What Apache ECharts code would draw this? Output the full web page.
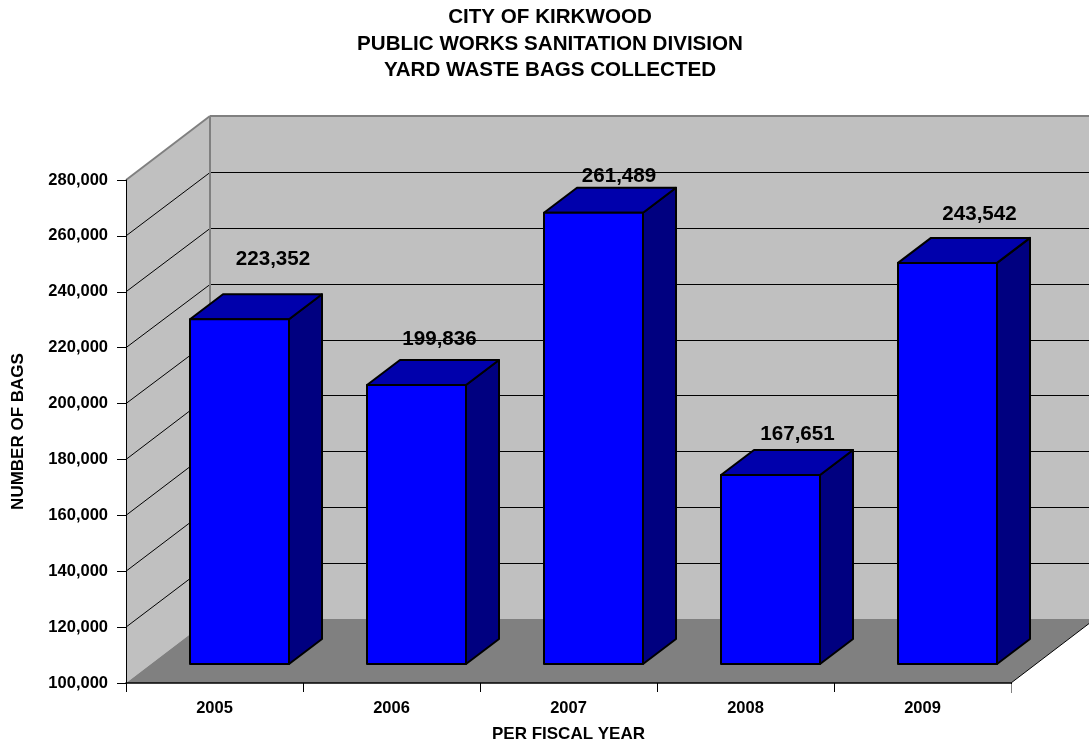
<!DOCTYPE html>
<html>
<head>
<meta charset="utf-8">
<style>html,body{margin:0;padding:0;background:#fff}#c{width:1089px;height:742px}</style>
<script src="https://cdn.jsdelivr.net/npm/echarts@6/dist/echarts.min.js"></script>
</head>
<body>
<div id="c"></div>
<script>
const titleLines = ['CITY OF KIRKWOOD', 'PUBLIC WORKS SANITATION DIVISION', 'YARD WASTE BAGS COLLECTED'];
const categories = ['2005', '2006', '2007', '2008', '2009'];
const bagsCollected = [223352, 199836, 261489, 167651, 243542];
const yTicks = [100000, 120000, 140000, 160000, 180000, 200000, 220000, 240000, 260000, 280000];
const yName = 'NUMBER OF BAGS';
const xName = 'PER FISCAL YEAR';

// hand-placed data labels in the source chart (pixel nudges, not data)
const labelShiftX = [33.5, 23, 25.5, 27, 32];
const labelLift = [34.5, 21, 11.5, 16, 24];

const FONT = '"Liberation Sans", Arial, sans-serif';
const WALL_DX = 84, WALL_DY = -64;
const BAR_DX = 25, BAR_DY = -19, BAR_DEPTH_X = 33, BAR_DEPTH_Y = -25, BAR_W = 99;

function poly(points, fill, stroke, lw) {
  return { type: 'polygon', shape: { points }, style: { fill, stroke: stroke || 'none', lineWidth: lw || 0, lineJoin: 'round' } };
}
function line(x1, y1, x2, y2, stroke, lw) {
  return { type: 'line', shape: { x1, y1, x2, y2 }, style: { stroke, lineWidth: lw } };
}

function renderWalls(params, api) {
  const band = api.size([1, 0])[0];
  const n = categories.length;
  const bottom = api.coord([0, yTicks[0]])[1];
  const top = api.coord([0, yTicks[yTicks.length - 1]])[1];
  const left = api.coord([0, yTicks[0]])[0] - band / 2;
  const right = left + band * n;
  const bl = left + WALL_DX, br = right + WALL_DX;
  const children = [
    poly([[bl, top + WALL_DY], [br, top + WALL_DY], [br, bottom + WALL_DY], [bl, bottom + WALL_DY]], '#C0C0C0'),
    poly([[left, bottom], [bl, bottom + WALL_DY], [bl, top + WALL_DY], [left, top]], '#C0C0C0'),
    poly([[left, bottom], [right, bottom], [br, bottom + WALL_DY], [bl, bottom + WALL_DY]], '#808080')
  ];
  yTicks.slice(1, -1).forEach(t => {
    const y = api.coord([0, t])[1];
    const yb = Math.round(y + WALL_DY) + 0.5;
    children.push(line(left, y, bl, yb, '#000', 1));
    children.push(line(bl, yb, br, yb, '#000', 1));
  });
  children.push(line(left, top, bl, top + WALL_DY, '#808080', 2));
  children.push(line(bl, top + WALL_DY, br, top + WALL_DY, '#808080', 2));
  children.push(line(bl, top + WALL_DY, bl, bottom + WALL_DY, '#808080', 2));
  children.push(line(right, bottom, br, bottom + WALL_DY, '#000', 1));
  return { type: 'group', children };
}

function renderEdgeTick(params, api) {
  const band = api.size([1, 0])[0];
  const c = api.coord([api.value(0), api.value(1)]);
  const x = Math.round(c[0] + band / 2) + 0.5;
  return line(x, c[1] + 1, x, c[1] + 10, '#808080', 1);
}

function renderBar(params, api) {
  const i = api.value(0), v = api.value(1);
  const c = api.coord([i, v]);
  const base = api.coord([i, yTicks[0]]);
  const x0 = c[0] + BAR_DX - BAR_W / 2, x1 = x0 + BAR_W;
  const yT = c[1] + BAR_DY, yB = base[1] + BAR_DY;
  const dx = BAR_DEPTH_X, dy = BAR_DEPTH_Y;
  const sw = 2;
  const label = Number(v).toLocaleString('en-US');
  return {
    type: 'group',
    children: [
      poly([[x1, yT], [x1 + dx, yT + dy], [x1 + dx, yB + dy], [x1, yB]], '#000080', '#000', sw),
      poly([[x0, yT], [x0 + dx, yT + dy], [x1 + dx, yT + dy], [x1, yT]], '#0000AC', '#000', sw),
      poly([[x0, yT], [x1, yT], [x1, yB], [x0, yB]], '#0000FF', '#000', sw),
      {
        type: 'text', z2: 10,
        style: {
          x: c[0] + BAR_DX + labelShiftX[i],
          y: yT + dy - labelLift[i],
          text: label, align: 'center', verticalAlign: 'middle',
          fill: '#000', font: 'bold 20.6px ' + FONT
        }
      }
    ]
  };
}

const chart = echarts.init(document.getElementById('c'), null, { renderer: 'canvas' });
chart.setOption({
  animation: false,
  backgroundColor: '#fff',
  title: {
    text: titleLines.join('\n'),
    left: 545, top: -0.5, textAlign: 'center',
    textStyle: { fontFamily: FONT, fontWeight: 'bold', fontSize: 20.6, lineHeight: 26.3, color: '#000' }
  },
  grid: { left: 126, right: 78, top: 180, bottom: 59, containLabel: false, outerBoundsMode: 'none' },
  xAxis: {
    type: 'category', data: categories, z: 5,
    name: xName, nameLocation: 'middle', nameGap: 43,
    nameTextStyle: { fontFamily: FONT, fontWeight: 'bold', fontSize: 17, color: '#000' },
    axisLine: { lineStyle: { color: '#000', width: 1.5 } },
    axisTick: { show: true, length: 9, alignWithLabel: false, lineStyle: { color: '#000', width: 1 } },
    axisLabel: { margin: 17, fontFamily: FONT, fontWeight: 'bold', fontSize: 16.5, color: '#000' },
    splitLine: { show: false }
  },
  yAxis: {
    type: 'value', min: yTicks[0], max: yTicks[yTicks.length - 1], interval: yTicks[1] - yTicks[0], z: 5,
    name: yName, nameLocation: 'middle', nameGap: 99, nameRotate: 90,
    nameTextStyle: { fontFamily: FONT, fontWeight: 'bold', fontSize: 17, color: '#000' },
    axisLine: { show: true, onZero: false, lineStyle: { color: '#000', width: 1 } },
    axisTick: { show: true, length: 9, lineStyle: { color: '#000', width: 1 } },
    axisLabel: { margin: 18, fontFamily: FONT, fontWeight: 'bold', fontSize: 16.5, color: '#000',
      formatter: v => Number(v).toLocaleString('en-US') },
    splitLine: { show: false }
  },
  series: [
    { type: 'custom', name: 'walls', z: 1, silent: true, encode: { x: 0, y: 1 },
      data: [[0, yTicks[0]]], renderItem: renderWalls },
    { type: 'custom', name: 'bags', z: 3, silent: true, encode: { x: 0, y: 1 },
      data: bagsCollected.map((v, i) => [i, v]), renderItem: renderBar },
    { type: 'custom', name: 'edge', z: 6, silent: true, encode: { x: 0, y: 1 },
      data: [[categories.length - 1, yTicks[0]]], renderItem: renderEdgeTick }
  ]
});
</script>
</body>
</html>
